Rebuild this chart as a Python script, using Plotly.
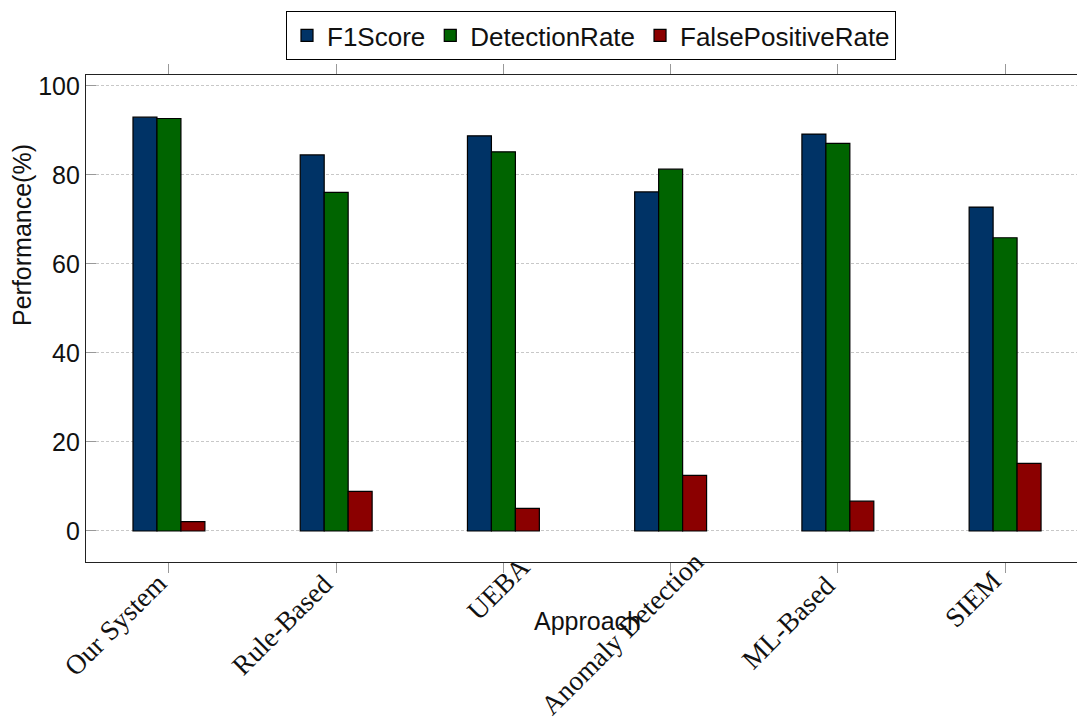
import plotly.graph_objects as go

approaches = ["Our System", "Rule-Based", "UEBA", "Anomaly Detection", "ML-Based", "SIEM"]
f1_score = [93.0, 84.5, 88.8, 76.2, 89.2, 72.8]
detection_rate = [92.7, 76.1, 85.2, 81.3, 87.1, 65.9]
false_positive_rate = [2.1, 8.9, 5.1, 12.5, 6.7, 15.2]

series = [
    ("F1Score", f1_score, "#003366"),
    ("DetectionRate", detection_rate, "#006400"),
    ("FalsePositiveRate", false_positive_rate, "#8b0000"),
]

# per-label nudges (px) for the rotated category labels
label_dx = [5, 4, 34, 40, 4, 4]
label_dy = [-4, -5, 12, 17, -6, -1]

fig = go.Figure()
for name, values, color in series:
    fig.add_trace(go.Bar(
        x=approaches, y=values, name=name,
        marker=dict(color=color, line=dict(color="black", width=1.2)),
    ))

W, H = 1077, 723
L, R, T, B = 86, 0, 75, 161
plot_h = H - T - B

annotations = []
for cat, dx, dy in zip(approaches, label_dx, label_dy):
    annotations.append(dict(
        text=cat, x=cat, xref="x", y=0, yref="paper",
        xanchor="right", yanchor="top", textangle=-45,
        xshift=dx, yshift=dy, showarrow=False, borderpad=0,
        font=dict(family="Liberation Serif, Times New Roman, serif", size=27.5, color="#111"),
    ))
annotations.append(dict(
    text="Approach", xref="paper", yref="paper",
    x=(587 - L) / (W - L - R), y=-(621 - (H - B)) / plot_h,
    xanchor="center", yanchor="middle", showarrow=False,
    font=dict(size=25, color="#111"),
))
annotations.append(dict(
    text="Performance(%)", xref="paper", yref="paper", textangle=-90,
    x=-(L - 22) / (W - L - R), y=((H - B) - 235) / plot_h,
    xanchor="center", yanchor="middle", showarrow=False,
    font=dict(size=25, color="#111"),
))

fig.update_layout(
    width=W, height=H,
    margin=dict(l=L, r=R, t=T, b=B, autoexpand=False),
    barmode="group", bargap=0.57, bargroupgap=0,
    plot_bgcolor="white", paper_bgcolor="white",
    font=dict(family="Liberation Sans, Arial, sans-serif", size=25, color="#111"),
    legend=dict(
        orientation="h", xref="container", yref="container",
        x=591 / W, xanchor="center", y=1 - 11 / H, yanchor="top",
        bordercolor="black", borderwidth=1, bgcolor="white",
        font=dict(size=26), itemwidth=30, tracegroupgap=0,
    ),
    xaxis=dict(
        range=[-0.496, 5.43],
        showline=True, linecolor="#222", linewidth=1.2, mirror="ticks",
        ticks="outside", ticklen=10, tickcolor="#999", tickwidth=1,
        showticklabels=False, showgrid=False,
    ),
    yaxis=dict(
        range=[-6.97, 102.47],
        tickvals=[0, 20, 40, 60, 80, 100],
        showline=True, linecolor="#222", linewidth=1.2, mirror=False,
        ticks="inside", ticklen=10, tickcolor="#999", tickwidth=1,
        showgrid=True, gridcolor="#c8c8c8", griddash="3px,2px", gridwidth=1,
        zeroline=False,
        tickfont=dict(size=25),
    ),
    annotations=annotations,
)

fig.write_html("out.html")
